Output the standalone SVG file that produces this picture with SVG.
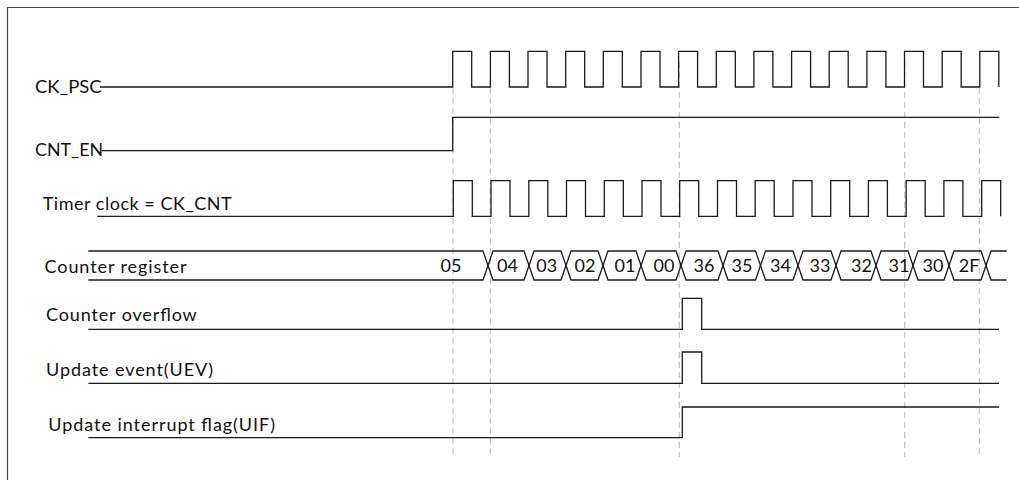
<svg xmlns="http://www.w3.org/2000/svg" width="1019" height="480" viewBox="0 0 1019 480">
<style>
.bg{fill:#ffffff}
.frame{fill:none;stroke:#444;stroke-width:1.2}
.w{fill:none;stroke:#1a1a1a;stroke-width:1.3;stroke-linejoin:miter}
.guide{fill:none;stroke:#c4c4c4;stroke-width:1.2;stroke-dasharray:6 4}
.lbl{font-family:Lato,"Open Sans","Liberation Sans",sans-serif;font-size:18px;fill:#111}
.val{font-family:Lato,"Open Sans","Liberation Sans",sans-serif;font-size:18px;fill:#111;text-anchor:middle}
</style>
<rect class="bg" x="0" y="0" width="1019" height="480"/>
<path class="frame" d="M7.5,480 V7.5 H1019"/>

<g id="connectors">
<path class="guide" d="M453,88 V457"/>
<path class="guide" d="M490.3,88 V457"/>
<path class="guide" d="M679.3,62 V457"/>
<path class="guide" d="M904.7,62 V457"/>
<path class="guide" d="M979.3,88 V457"/>
</g>

<g id="ck_psc">
<text class="lbl" x="35" y="93" textLength="66.7" lengthAdjust="spacingAndGlyphs">CK_PSC</text>
<path class="w" d="M100,87 H452.7 V51.3 H471.7 V87 H490.4 V51.3 H509.4 V87 H528 V51.3 H547 V87 H565.7 V51.3 H584.7 V87 H603.3 V51.3 H622.3 V87 H641 V51.3 H660 V87 H678.6 V51.3 H697.6 V87 H716.3 V51.3 H735.3 V87 H753.9 V51.3 H772.9 V87 H791.6 V51.3 H810.6 V87 H829.2 V51.3 H848.2 V87 H866.9 V51.3 H885.9 V87 H904.5 V51.3 H923.5 V87 H942.2 V51.3 H961.2 V87 H979.8 V51.3 H998.8 V87"/>
</g>

<g id="cnt_en">
<text class="lbl" x="35" y="156" textLength="68" lengthAdjust="spacingAndGlyphs">CNT_EN</text>
<path class="w" d="M101.7,150.7 H452.7 V117.3 H999.3"/>
</g>

<g id="timer_clock">
<text class="lbl" x="42.7" y="209.5" textLength="189" lengthAdjust="spacing">Timer clock = CK_CNT</text>
<path class="w" d="M97.3,216.3 H453.3 V180.7 H472.3 V216.3 H491 V180.7 H510 V216.3 H528.8 V180.7 H547.8 V216.3 H566.5 V180.7 H585.5 V216.3 H604.3 V180.7 H623.3 V216.3 H642 V180.7 H661 V216.3 H679.7 V180.7 H698.7 V216.3 H717.5 V180.7 H736.5 V216.3 H755.2 V180.7 H774.2 V216.3 H793 V180.7 H812 V216.3 H830.7 V180.7 H849.7 V216.3 H868.4 V180.7 H887.4 V216.3 H906.2 V180.7 H925.2 V216.3 H943.9 V180.7 H962.9 V216.3 H981.7 V180.7 H1000.7 V216.3"/>
</g>

<g id="counter_register">
<text class="lbl" x="44.5" y="273" textLength="142" lengthAdjust="spacing">Counter register</text>
<path class="w" d="M88.3,251 H483 L488,265.5 L483,280 H88.3"/>
<path class="w" d="M488,265.5 L493,251 H524 L529,265.5 L524,280 H493 Z"/>
<path class="w" d="M529,265.5 L534,251 H561 L566,265.5 L561,280 H534 Z"/>
<path class="w" d="M566,265.5 L571,251 H598 L603,265.5 L598,280 H571 Z"/>
<path class="w" d="M603,265.5 L608,251 H636 L641,265.5 L636,280 H608 Z"/>
<path class="w" d="M641,265.5 L646,251 H676 L681,265.5 L676,280 H646 Z"/>
<path class="w" d="M681,265.5 L686,251 H718 L723,265.5 L718,280 H686 Z"/>
<path class="w" d="M723,265.5 L728,251 H755.5 L760.5,265.5 L755.5,280 H728 Z"/>
<path class="w" d="M760.5,265.5 L765.5,251 H793 L798,265.5 L793,280 H765.5 Z"/>
<path class="w" d="M798,265.5 L803,251 H831 L836,265.5 L831,280 H803 Z"/>
<path class="w" d="M836,265.5 L841,251 H871 L876,265.5 L871,280 H841 Z"/>
<path class="w" d="M876,265.5 L881,251 H908 L913,265.5 L908,280 H881 Z"/>
<path class="w" d="M913,265.5 L918,251 H944 L949,265.5 L944,280 H918 Z"/>
<path class="w" d="M949,265.5 L954,251 H981 L986,265.5 L981,280 H954 Z"/>
<path class="w" d="M1006.7,251 H991 L986,265.5 L991,280 H1006.7"/>
<text class="val" x="451" y="272">05</text>
<text class="val" x="507.5" y="272">04</text>
<text class="val" x="546.7" y="272">03</text>
<text class="val" x="585" y="272">02</text>
<text class="val" x="625" y="272">01</text>
<text class="val" x="664" y="272">00</text>
<text class="val" x="704" y="272">36</text>
<text class="val" x="742" y="272">35</text>
<text class="val" x="780.5" y="272">34</text>
<text class="val" x="820" y="272">33</text>
<text class="val" x="861.5" y="272">32</text>
<text class="val" x="899" y="272">31</text>
<text class="val" x="933" y="272">30</text>
<text class="val" x="969" y="272">2F</text>
</g>

<g id="counter_overflow">
<text class="lbl" x="46" y="321" textLength="150.7" lengthAdjust="spacing">Counter overflow</text>
<path class="w" d="M88.3,329.3 H682.3 V298.3 H701.7 V329.3 H999"/>
</g>

<g id="uev">
<text class="lbl" x="46" y="376" textLength="167" lengthAdjust="spacing">Update event(UEV)</text>
<path class="w" d="M88.3,383.3 H682.3 V352 H701.7 V383.3 H999"/>
</g>

<g id="uif">
<text class="lbl" x="48.3" y="431" textLength="226.7" lengthAdjust="spacing">Update interrupt flag(UIF)</text>
<path class="w" d="M88.3,437.7 H682.3 V407 H999"/>
</g>
</svg>
